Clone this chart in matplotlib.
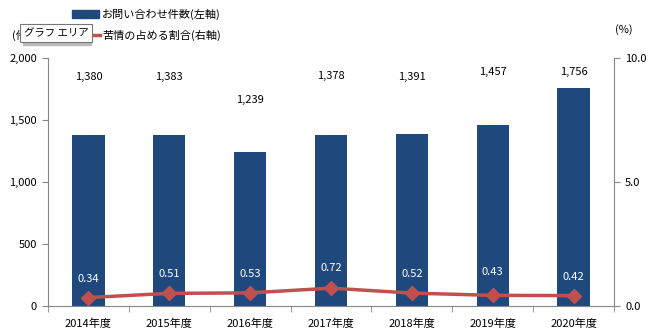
import matplotlib
matplotlib.use("Agg")
import matplotlib.pyplot as plt
import numpy as np

plt.rcParams['font.family'] = ['Noto Sans CJK JP', 'DejaVu Sans']

# Data
years = ["2014年度", "2015年度", "2016年度", "2017年度", "2018年度", "2019年度", "2020年度"]
inquiries = [1380, 1383, 1239, 1378, 1391, 1457, 1756]
complaint_pct = [0.34, 0.51, 0.53, 0.72, 0.52, 0.43, 0.42]

# label heights (left-axis units / right-axis units)
count_label_y = [1850, 1850, 1660, 1855, 1850, 1890, 1890]
pct_label_y = [1.08, 1.29, 1.29, 1.52, 1.29, 1.36, 1.17]

bar_color = "#1F497D"
line_color = "#C0504D"
spine_color = "#868686"

fig = plt.figure(figsize=(6.6, 3.35), dpi=100)
ax = fig.add_axes([48 / 660, 1 - 306 / 335, (614 - 48) / 660, (306 - 58) / 335])
x = np.arange(len(years))

ax.bar(x, inquiries, width=0.4, color=bar_color, zorder=2)
ax.set_xlim(-0.5, len(years) - 0.5)
ax.set_ylim(0, 2000)
ax.set_yticks([0, 500, 1000, 1500, 2000])
ax.set_yticklabels(["0", "500", "1,000", "1,500", "2,000"])
ax.set_xticks(x)
ax.set_xticklabels(years)
ax.set_xticks(np.arange(-0.5, len(years)), minor=True)
ax.tick_params(axis="x", which="major", length=0, pad=9, labelsize=8)
ax.tick_params(axis="x", which="minor", length=4, color=spine_color, direction="out")
ax.tick_params(axis="y", length=4, color=spine_color, labelsize=8, pad=4)

for xi, v, ly in zip(x, inquiries, count_label_y):
    ax.text(xi, ly, f"{v:,}", ha="center", va="center", fontsize=8, color="black")

ax2 = ax.twinx()
ax2.plot(x, complaint_pct, color=line_color, linewidth=2.5, marker="D",
         markersize=7, zorder=3)
ax2.set_ylim(0, 10)
ax2.set_yticks([0, 5, 10])
ax2.set_yticklabels(["0.0", "5.0", "10.0"])
ax2.tick_params(axis="y", length=4, color=spine_color, labelsize=8, pad=4)

for xi, v, ly in zip(x, complaint_pct, pct_label_y):
    ax2.text(xi, ly, f"{v:.2f}", ha="center", va="center", fontsize=8, color="white")

for a in (ax, ax2):
    a.spines["top"].set_visible(False)
    for side in ("left", "right", "bottom"):
        a.spines[side].set_color(spine_color)
ax.spines["right"].set_visible(False)
ax2.spines["left"].set_visible(False)
ax2.spines["bottom"].set_visible(False)

# legend
fig.patches.append(plt.Rectangle((72 / 660, 1 - 18 / 335), 27 / 660, 8 / 335,
                                 transform=fig.transFigure, color=bar_color))
fig.text(102 / 660, 1 - 14 / 335, "お問い合わせ件数(左軸)", fontsize=8, va="center")
fig.lines.append(plt.Line2D([78 / 660, 100 / 660], [1 - 35 / 335, 1 - 35 / 335],
                            transform=fig.transFigure, color=line_color, linewidth=2.5))
fig.text(102 / 660, 1 - 35 / 335, "苦情の占める割合(右軸)", fontsize=8, va="center")

# axis units
fig.text(12 / 660, 1 - 35 / 335, "(件)", fontsize=8, va="center")
fig.text(615 / 660, 1 - 30 / 335, "(%)", fontsize=8, va="center")

# chart-area tooltip with a drop shadow
fig.patches.append(plt.Rectangle((23 / 660, 1 - 45 / 335), 68 / 660, 17 / 335,
                                 transform=fig.transFigure, color="#BBBBBB", zorder=4))
fig.text(24 / 660, 1 - 33 / 335, "グラフ エリア", fontsize=7.5, va="center", zorder=5,
         bbox=dict(boxstyle="square,pad=0.35", facecolor="white", edgecolor="#777777",
                   linewidth=0.8))

fig.savefig("out.png", dpi=100)
